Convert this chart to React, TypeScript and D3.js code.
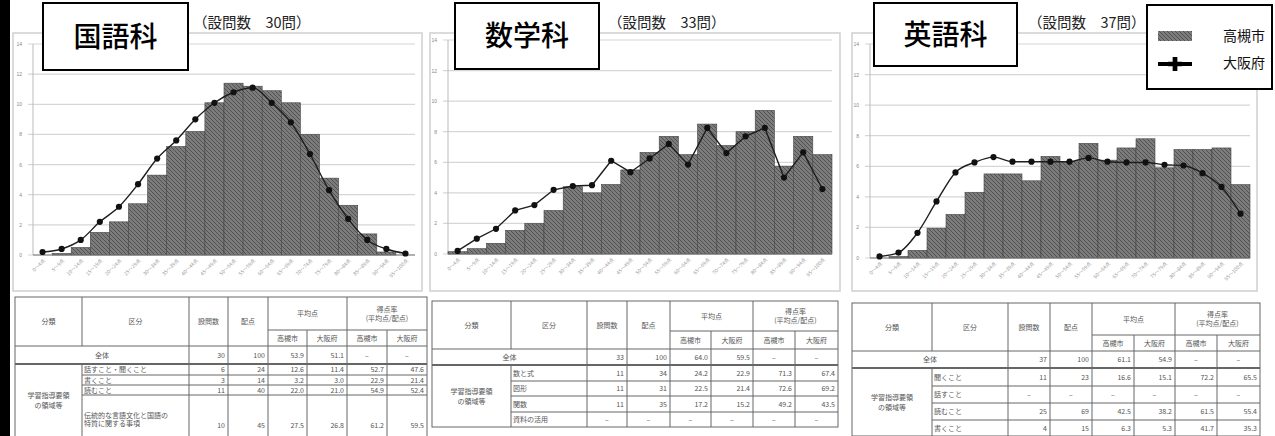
import React from 'react'
import * as d3 from 'd3'

// score bins (x axis)
const bins = [
  '0〜4点', '5〜9点', '10〜14点', '15〜19点', '20〜24点', '25〜29点', '30〜34点',
  '35〜39点', '40〜44点', '45〜49点', '50〜54点', '55〜59点', '60〜64点', '65〜69点',
  '70〜74点', '75〜79点', '80〜84点', '85〜89点', '90〜94点', '95〜100点',
]
const yTicks = [0, 2, 4, 6, 8, 10, 12, 14]

// % of students per bin
const kokugoTakatsuki = [0.0, 0.1, 0.5, 1.5, 2.2, 3.4, 5.3, 7.2, 8.2, 10.1, 11.4, 11.2, 10.9, 10.1, 8.0, 5.1, 3.3, 1.4, 0.2, 0.0]
const kokugoOsaka = [0.2, 0.4, 1.0, 2.2, 3.2, 4.7, 6.4, 7.6, 9.0, 10.1, 10.8, 11.1, 10.1, 8.8, 6.7, 4.3, 2.4, 1.0, 0.4, 0.1]
const sugakuTakatsuki = [0.15, 0.35, 0.7, 1.55, 2.0, 2.85, 4.4, 4.0, 4.55, 5.5, 6.65, 7.7, 6.5, 8.5, 7.1, 8.0, 9.4, 5.75, 7.7, 6.5]
const sugakuOsaka = [0.2, 1.0, 1.65, 2.85, 3.2, 4.2, 4.45, 4.5, 6.1, 5.35, 6.25, 7.2, 5.85, 8.25, 6.6, 7.7, 8.25, 5.0, 6.65, 4.25]
const eigoTakatsuki = [0.0, 0.1, 0.5, 1.95, 2.85, 4.3, 5.5, 5.5, 5.05, 6.65, 6.3, 7.5, 6.4, 7.2, 7.8, 5.9, 7.1, 7.1, 7.2, 4.8]
const eigoOsaka = [0.1, 0.35, 1.65, 3.7, 5.6, 6.25, 6.6, 6.3, 6.3, 6.3, 6.3, 6.55, 6.3, 6.25, 6.25, 6.1, 6.05, 5.55, 4.65, 2.9]

// tables: [区分, 設問数, 配点, 平均点 高槻市, 大阪府, 得点率 高槻市, 大阪府]
const kokugoTable = [
  ['全体', '30', '100', '53.9', '51.1', '–', '–'],
  ['話すこと・聞くこと', '6', '24', '12.6', '11.4', '52.7', '47.6'],
  ['書くこと', '3', '14', '3.2', '3.0', '22.9', '21.4'],
  ['読むこと', '11', '40', '22.0', '21.0', '54.9', '52.4'],
  ['伝統的な言語文化と国語の|特質に関する事項', '10', '45', '27.5', '26.8', '61.2', '59.5'],
]
const sugakuTable = [
  ['全体', '33', '100', '64.0', '59.5', '–', '–'],
  ['数と式', '11', '34', '24.2', '22.9', '71.3', '67.4'],
  ['図形', '11', '31', '22.5', '21.4', '72.6', '69.2'],
  ['関数', '11', '35', '17.2', '15.2', '49.2', '43.5'],
  ['資料の活用', '–', '–', '–', '–', '–', '–'],
]
const eigoTable = [
  ['全体', '37', '100', '61.1', '54.9', '–', '–'],
  ['聞くこと', '11', '23', '16.6', '15.1', '72.2', '65.5'],
  ['話すこと', '–', '–', '–', '–', '–', '–'],
  ['読むこと', '25', '69', '42.5', '38.2', '61.5', '55.4'],
  ['書くこと', '4', '15', '6.3', '5.3', '41.7', '35.3'],
]

const JP = '"Noto Sans CJK JP", "Noto Sans", sans-serif'

type Box = { x: number; y: number; w: number; h: number }
type Plot = { left: number; right: number; top: number; bottom: number }

const Chart: React.FC<{
  frame: Box
  plot: Plot
  box: Box
  title: string
  sub: string
  subX: number
  bars: number[]
  line: number[]
  smooth: boolean
}> = ({ frame, plot, box, title, sub, subX, bars, line, smooth }) => {
  const x = d3.scaleBand<string>().domain(bins).range([plot.left, plot.right]).padding(0)
  const y = d3.scaleLinear().domain([0, 14]).range([plot.bottom, plot.top])
  const path = d3
    .line<number>()
    .x((_, i) => x(bins[i])! + x.bandwidth() / 2)
    .y((d) => y(d))
    .curve(smooth ? d3.curveMonotoneX : d3.curveLinear)

  return (
    <g>
      <rect x={frame.x} y={frame.y} width={frame.w} height={frame.h} fill="#fff" stroke="#cfcfcf" strokeWidth={1.5} />
      {yTicks.map((t) => (
        <g key={t}>
          <line x1={plot.left - 5} x2={plot.right} y1={y(t)} y2={y(t)} stroke="#d6d6d6" strokeWidth={1.2} />
          <text x={plot.left - 11} y={y(t) + 2} fontSize={5} fill="#888" textAnchor="end" fontFamily="Arial, sans-serif">
            {t}
          </text>
        </g>
      ))}
      <line x1={plot.left} x2={plot.left} y1={plot.top} y2={plot.bottom} stroke="#bbb" />
      {bars.map((v, i) => (
        <rect
          key={i}
          x={x(bins[i])}
          y={y(v)}
          width={x.bandwidth()}
          height={y(0) - y(v)}
          fill="url(#hatch)"
          stroke="#444"
          strokeWidth={0.6}
        />
      ))}
      <line x1={plot.left} x2={plot.right} y1={y(0)} y2={y(0)} stroke="#777" />
      {bins.map((b) => (
        <text
          key={b}
          transform={`translate(${x(b)! + x.bandwidth() / 2 + 3},${plot.bottom + 6}) rotate(-45)`}
          fontSize={5}
          fill="#999"
          textAnchor="end"
          fontFamily={JP}
        >
          {b}
        </text>
      ))}
      <path d={path(line)!} fill="none" stroke="#1e1e1e" strokeWidth={1.4} />
      {line.map((v, i) => (
        <circle key={i} cx={x(bins[i])! + x.bandwidth() / 2} cy={y(v)} r={3.1} fill="#111" />
      ))}
      <rect x={box.x} y={box.y} width={box.w} height={box.h} fill="#fff" stroke="#000" strokeWidth={2} />
      <text
        x={box.x + box.w / 2}
        y={box.y + box.h / 2 + 10}
        textAnchor="middle"
        fontSize={28}
        fontFamily={JP}
        fontWeight={500}
        fill="#000"
      >
        {title}
      </text>
      <text x={subX} y={28} fontSize={14.5} fontFamily={JP} fill="#222">
        {sub}
      </text>
    </g>
  )
}

const Table: React.FC<{ cols: number[]; rows: number[]; data: string[][] }> = ({ cols, rows, data }) => {
  const c = cols
  const r = rows
  const fs = 7
  const col = '#555'
  const mid = (a: number, b: number) => (a + b) / 2
  const last = r[r.length - 1]
  const hl = (y: number, x1: number, x2: number, w = 1) => (
    <line key={`h${y}-${x1}`} x1={x1} x2={x2} y1={y} y2={y} stroke="#666" strokeWidth={w} />
  )
  const vl = (x: number, y1: number, y2: number) => (
    <line key={`v${x}-${y1}`} x1={x} x2={x} y1={y1} y2={y2} stroke="#666" strokeWidth={1} />
  )
  const txt = (s: string, tx: number, ty: number, anchor = 'middle', key?: string) => (
    <text key={key ?? `${s}${tx}${ty}`} x={tx} y={ty + fs * 0.36} fontSize={fs} fill={col} textAnchor={anchor} fontFamily={JP}>
      {s}
    </text>
  )
  const lines: React.ReactNode[] = []
  lines.push(<rect key="outer" x={c[0]} y={r[0]} width={c[8] - c[0]} height={last - r[0]} fill="#fff" stroke="#666" strokeWidth={1} />)
  // horizontal
  lines.push(hl(r[1], c[4], c[8]))
  lines.push(hl(r[2], c[0], c[8]))
  lines.push(hl(r[3], c[0], c[8], 2))
  for (let i = 4; i < r.length - 1; i++) lines.push(hl(r[i], c[1], c[8]))
  // vertical
  lines.push(vl(c[1], r[0], r[2]))
  lines.push(vl(c[1], r[3], last))
  for (const i of [2, 3, 4, 6]) lines.push(vl(c[i], r[0], last))
  for (const i of [5, 7]) lines.push(vl(c[i], r[1], last))

  const hy = mid(r[0], r[2])
  const bodyMid = mid(r[3], Math.min(last, 436))
  const texts: React.ReactNode[] = [
    txt('分類', mid(c[0], c[1]), hy),
    txt('区分', mid(c[1], c[2]), hy),
    txt('設問数', mid(c[2], c[3]), hy),
    txt('配点', mid(c[3], c[4]), hy),
    txt('平均点', mid(c[4], c[6]), mid(r[0], r[1])),
    txt('得点率', mid(c[6], c[8]), mid(r[0], r[1]) - 4.5),
    txt('(平均点/配点)', mid(c[6], c[8]), mid(r[0], r[1]) + 4.5),
    txt('高槻市', mid(c[4], c[5]), mid(r[1], r[2])),
    txt('大阪府', mid(c[5], c[6]), mid(r[1], r[2])),
    txt('高槻市', mid(c[6], c[7]), mid(r[1], r[2])),
    txt('大阪府', mid(c[7], c[8]), mid(r[1], r[2])),
    txt('学習指導要領', mid(c[0], c[1]), bodyMid - 5),
    txt('の領域等', mid(c[0], c[1]), bodyMid + 5),
  ]
  data.forEach((row, i) => {
    const cy = mid(r[i + 2], r[i + 3])
    if (i === 0) texts.push(txt(row[0], mid(c[0], c[2]), cy, 'middle', `l${i}`))
    else {
      const parts = row[0].split('|')
      if (parts.length > 1) {
        parts.forEach((p, k) => texts.push(txt(p, c[1] + 2, r[i + 2] + 20 + k * 8, 'start', `l${i}${k}`)))
      } else texts.push(txt(parts[0], c[1] + 2, cy, 'start', `l${i}`))
    }
    const vy = row[0].includes('|') ? r[i + 2] + 30 : cy
    row.slice(1).forEach((v, j) => {
      const a = c[j + 2]
      const b = c[j + 3]
      texts.push(v === '–' ? txt(v, mid(a, b), vy, 'middle', `v${i}${j}`) : txt(v, b - 3, vy, 'end', `v${i}${j}`))
    })
  })
  return (
    <g>
      {lines}
      {texts}
    </g>
  )
}

export default function App() {
  return (
    <svg
      width={1275}
      height={436}
      style={{ position: 'absolute', left: 0, top: 0, background: '#fff' }}
      fontFamily={JP}
    >
      <defs>
        <pattern id="hatch" patternUnits="userSpaceOnUse" width={4} height={4}>
          <rect width={4} height={4} fill="#7c7c7c" />
          <path d="M-1,-1 L5,5 M-1,3 L1,5 M3,-1 L5,1" stroke="#4c4c4c" strokeWidth={0.9} />
        </pattern>
      </defs>
      <rect x={0} y={0} width={1275} height={436} fill="#fff" />
      <rect x={0} y={0} width={10} height={436} fill="#000" />

      <Chart
        frame={{ x: 13, y: 33, w: 409, h: 258 }}
        plot={{ left: 33, right: 415, top: 44, bottom: 255 }}
        box={{ x: 43, y: 3, w: 145, h: 67 }}
        title="国語科"
        sub="（設問数　30問）"
        subX={193}
        bars={kokugoTakatsuki}
        line={kokugoOsaka}
        smooth
      />
      <Chart
        frame={{ x: 430, y: 33, w: 410, h: 258 }}
        plot={{ left: 448, right: 832, top: 40, bottom: 254 }}
        box={{ x: 455, y: 3, w: 144, h: 66 }}
        title="数学科"
        sub="（設問数　33問）"
        subX={608}
        bars={sugakuTakatsuki}
        line={sugakuOsaka}
        smooth={false}
      />
      <Chart
        frame={{ x: 852, y: 33, w: 405, h: 258 }}
        plot={{ left: 870, right: 1250, top: 44, bottom: 258 }}
        box={{ x: 874, y: 3, w: 143, h: 63 }}
        title="英語科"
        sub="（設問数　37問）"
        subX={1028}
        bars={eigoTakatsuki}
        line={eigoOsaka}
        smooth
      />

      {/* legend */}
      <rect x={1147} y={5} width={125} height={84} fill="#fff" stroke="#000" strokeWidth={2} />
      <rect x={1158} y={31} width={34} height={10} fill="url(#hatch)" />
      <text x={1265} y={41} textAnchor="end" fontSize={14} fill="#111">高槻市</text>
      <line x1={1158} x2={1192} y1={64} y2={64} stroke="#000" strokeWidth={4} />
      <path transform="translate(1175,64)" d={d3.symbol(d3.symbolCross, 110)()!} fill="#000" />
      <text x={1265} y={68} textAnchor="end" fontSize={14} fill="#111">大阪府</text>

      <Table cols={[15, 82, 189, 228, 268, 307, 347, 387, 427]} rows={[297, 330, 346, 364, 375, 385, 395, 455]} data={kokugoTable} />
      <Table cols={[432, 511, 587, 627, 670, 711, 753, 795, 838]} rows={[301, 331, 349, 365, 381, 396, 412, 427]} data={sugakuTable} />
      <Table cols={[852, 932, 1008, 1050, 1092, 1134, 1175, 1217, 1260]} rows={[303, 335, 351, 368, 386, 403, 420, 436]} data={eigoTable} />
    </svg>
  )
}
